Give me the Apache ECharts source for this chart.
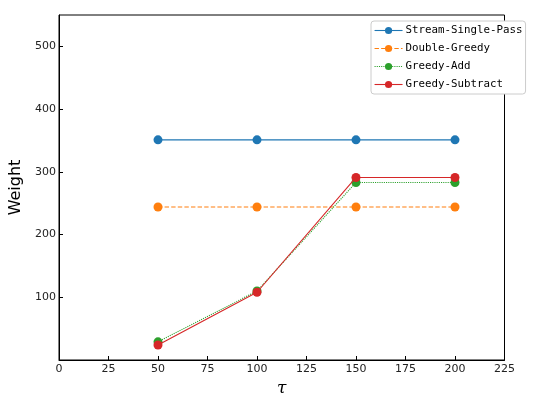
<!DOCTYPE html>
<html><head><meta charset="utf-8">
<script src="https://cdn.jsdelivr.net/npm/echarts@6/dist/echarts.min.js"></script>
<style>html,body{margin:0;padding:0;background:#fff;overflow:hidden}#c{width:557px;height:394px}</style>
</head><body><div id="c"></div>
<script>
const tau = [50, 100, 150, 200];
const streamSinglePass = [351, 351, 351, 351];
const doubleGreedy = [244, 244, 244, 244];
const greedyAdd = [29, 110, 283, 283];
const greedySubtract = [24, 108, 291, 291];
const seriesNames = ['Stream-Single-Pass', 'Double-Greedy', 'Greedy-Add', 'Greedy-Subtract'];
const colors = ['#1f77b4', '#ff7f0e', '#2ca02c', '#d62728'];
const lineTypes = ['solid', 'dashed', 'dotted', 'solid'];
const values = [streamSinglePass, doubleGreedy, greedyAdd, greedySubtract];

const chart = echarts.init(document.getElementById('c'), null, {renderer: 'canvas'});
chart.setOption({
  animation: false,
  backgroundColor: '#fff',
  grid: {left: 59, right: 52.5, top: 15, bottom: 34, containLabel: false, outerBoundsMode: 'none',
    show: true, borderColor: '#000', borderWidth: 1, backgroundColor: 'transparent'},
  legend: {
    orient: 'vertical', left: 371, top: 21,
    padding: [3, 3, 3, 3], itemGap: 5, itemWidth: 28, itemHeight: 9,
    borderColor: '#cccccc', borderWidth: 1, borderRadius: 3, backgroundColor: '#fff',
    lineStyle: {width: 1.1},
    textStyle: {fontFamily: 'DejaVu Sans Mono', fontSize: 10.8, color: '#000', lineHeight: 13, padding: [0, 0, 0, -2]},
    data: seriesNames.map((n, i) => ({name: n, lineStyle: {type: lineTypes[i], width: 1.1}}))
  },
  xAxis: {
    type: 'value', min: 0, max: 225, interval: 25,
    name: 'τ', nameLocation: 'middle', nameGap: 17,
    nameTextStyle: {fontFamily: 'DejaVu Serif', fontStyle: 'italic', fontSize: 17, color: '#000'},
    axisLine: {show: true, lineStyle: {color: '#000', width: 1}},
    axisTick: {show: true, inside: true, length: 4, lineStyle: {color: '#000'}},
    axisLabel: {fontFamily: 'DejaVu Sans', fontSize: 11, color: '#222', margin: 4},
    splitLine: {show: false}
  },
  yAxis: {
    type: 'value', min: 0, max: 550, interval: 100,
    name: 'Weight', nameLocation: 'middle', nameGap: 34,
    nameTextStyle: {fontFamily: 'DejaVu Sans', fontSize: 16, color: '#000'},
    axisLine: {show: true, lineStyle: {color: '#000', width: 1}},
    axisTick: {show: true, inside: true, length: 4, lineStyle: {color: '#000'}},
    axisLabel: {fontFamily: 'DejaVu Sans', fontSize: 11, color: '#222', margin: 3, showMinLabel: false, showMaxLabel: false},
    splitLine: {show: false}
  },
  series: seriesNames.map((n, i) => ({
    name: n, type: 'line',
    data: tau.map((t, j) => [t, values[i][j]]),
    symbol: 'circle', symbolSize: 9,
    itemStyle: {color: colors[i]},
    lineStyle: {color: colors[i], width: 1.1, type: lineTypes[i]},
    z: 2 + i
  }))
});
</script></body></html>
